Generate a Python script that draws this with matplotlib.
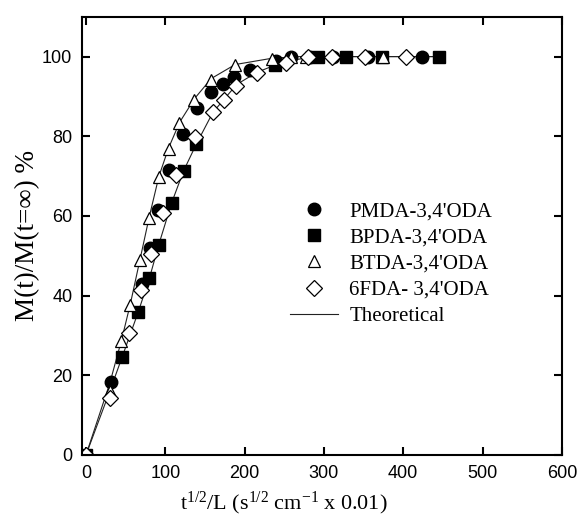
import numpy as np
import matplotlib
matplotlib.use('Agg')
import matplotlib.pyplot as plt

plt.rcParams['mathtext.fontset'] = 'custom'
plt.rcParams['mathtext.rm'] = 'Liberation Serif'
plt.rcParams['mathtext.it'] = 'Liberation Serif:italic'

# data
pmda_x = [0, 31, 70, 81, 91, 105, 122, 140, 158, 173, 187, 207, 240, 258, 282, 312, 355, 424]
pmda_y = [0, 18.4, 43, 52, 61.6, 71.4, 80.5, 87, 91, 93, 94.8, 96.6, 99, 100, 100, 100, 100, 100]

bpda_x = [0, 45.6, 65.7, 80, 91.6, 108, 123, 139, 238, 292, 328, 373, 445]
bpda_y = [0, 24.6, 35.8, 44.4, 52.7, 63.3, 71.3, 78, 98, 100, 100, 100, 100]

btda_x = [0, 30, 44, 55.7, 68, 79, 92, 104, 117.6, 136.5, 157.5, 188, 235, 258, 278, 375]
btda_y = [0, 16, 28.7, 37.7, 48.8, 59.5, 69.8, 76.9, 83.3, 89, 94, 98, 99.5, 100, 100, 100]

fda_x = [0, 30.6, 53.6, 69.5, 82, 96.6, 113, 137.7, 159.5, 174, 189, 216, 252, 280, 310, 352, 403]
fda_y = [0, 14.3, 30.6, 41.4, 50.5, 60.8, 70.2, 79.8, 86.1, 89, 92.5, 96, 98.5, 100, 100, 100, 100]

# theoretical curves (two visible lines)
th1_x = [0, 30, 45, 56, 68, 80, 92, 104, 118, 137, 158, 188, 235, 270, 445]
th1_y = [0, 18, 29, 38, 49, 60, 70, 77, 83.5, 89.5, 94.5, 98, 99.6, 100, 100]
th2_x = [0, 30, 45.6, 65.7, 80, 91.6, 108, 123, 139, 160, 175, 190, 215, 250, 290, 445]
th2_y = [0, 16, 24.6, 35.8, 44.4, 52.7, 63.3, 71.3, 78, 86, 89.5, 93, 96, 98.8, 100, 100]

fig = plt.figure(figsize=(5.78, 5.24), dpi=100)
ax = fig.add_axes([0.142, 0.132, 0.83, 0.836])

ax.plot(th1_x, th1_y, '-', color='#222222', lw=0.8, label='Theoretical')
ax.plot(th2_x, th2_y, '-', color='#222222', lw=0.8)

ax.plot(pmda_x, pmda_y, 'o', ms=9, mfc='black', mec='black', ls='none', label='PMDA-3,4\'ODA')
ax.plot(bpda_x, bpda_y, 's', ms=8, mfc='black', mec='black', ls='none', label='BPDA-3,4\'ODA')
ax.plot(btda_x, btda_y, '^', ms=9, mfc='white', mec='black', mew=0.9, ls='none', label='BTDA-3,4\'ODA')
ax.plot(fda_x, fda_y, 'D', ms=8, mfc='white', mec='black', mew=0.9, ls='none', label='6FDA- 3,4\'ODA')

ax.set_xlim(-5, 600)
ax.set_ylim(0, 110)
ax.set_xticks(np.arange(0, 601, 100))
ax.set_yticks(np.arange(0, 101, 20))

for s in ax.spines.values():
    s.set_linewidth(1.5)
ax.tick_params(direction='in', length=6, width=1.5, top=True, right=True, labelsize=13, pad=7)
for lab in ax.get_xticklabels() + ax.get_yticklabels():
    lab.set_family('Liberation Sans')

ax.set_xlabel(r'$\mathrm{t^{1/2}/L\ (s^{1/2}\ cm^{-1}\ x\ 0.01)}$', fontsize=16)
ax.xaxis.set_label_coords(0.42, -0.08)
ax.set_ylabel('M(t)/M(t=\u221e) %', fontsize=19.5, family=['Liberation Serif', 'DejaVu Serif'])
ax.yaxis.set_label_coords(-0.088, 0.5)

h, l = ax.get_legend_handles_labels()
order = [1, 2, 3, 4, 0]
ax.legend([h[i] for i in order], [l[i] for i in order], loc='upper left',
          bbox_to_anchor=(0.433, 0.578), frameon=False, numpoints=1,
          borderaxespad=0, borderpad=0,
          prop={'family': 'Liberation Serif', 'size': 15},
          handlelength=2.3, handletextpad=0.55, labelspacing=0.32)

fig.savefig('out.png', dpi=100)
